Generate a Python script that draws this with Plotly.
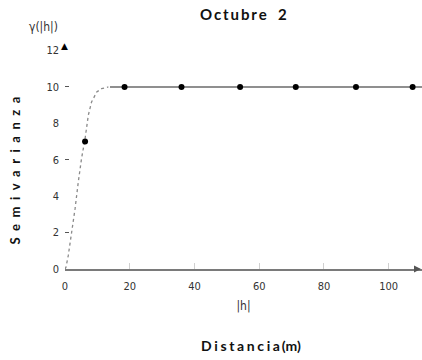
import plotly.graph_objects as go

# Empirical semivariogram (lag distance in m, semivariance)
lag = [6.2, 18.4, 36.0, 54.1, 71.3, 89.9, 107.4]
gamma = [7.0, 10.0, 10.0, 10.0, 10.0, 10.0, 10.0]

# Fitted model: rising branch (dotted) and sill (solid)
model_h = [0.0, 0.3, 1.0, 2.1, 3.1, 4.1, 5.1, 6.2, 7.2, 8.2, 9.8, 11.3, 13.4]
model_g = [0.0, 0.1, 0.73, 2.0, 3.3, 4.77, 6.06, 7.16, 8.44, 9.17, 9.72, 9.91, 10.0]
sill_h = [13.9, 110.3]
sill_g = [10.0, 10.0]

x_ticks = [0, 20, 40, 60, 80, 100]
y_ticks = [0, 2, 4, 6, 8, 10, 12]
y_marks = [2, 6, 10]

title_text = "\u2009".join("Octubre") + "\u2002 2"
ylab_text = "\u2002".join("Semivarianza")
xlab_text = "\u2009\u200a".join("Distancia") + "\u2009(m)"

narrow = "DejaVu Sans Condensed, Liberation Sans Narrow, Arial Narrow, sans-serif"
bold = "Lato, Open Sans, sans-serif"

fig = go.Figure()
fig.add_trace(go.Scatter(x=model_h, y=model_g, mode="lines",
                         line=dict(color="#8a8a8a", width=1.3, dash="dot"),
                         hoverinfo="skip", showlegend=False))
fig.add_trace(go.Scatter(x=sill_h, y=sill_g, mode="lines",
                         line=dict(color="#8f8f8f", width=2),
                         hoverinfo="skip", showlegend=False))
fig.add_trace(go.Scatter(x=lag, y=gamma, mode="markers",
                         marker=dict(color="black", size=6),
                         showlegend=False))

fig.update_layout(
    width=422, height=360,
    margin=dict(l=65, r=0, t=40, b=91),
    paper_bgcolor="white", plot_bgcolor="white",
    showlegend=False,
    xaxis=dict(range=[0, 110.3], tickvals=x_ticks, showgrid=False, zeroline=False,
               showline=True, linecolor="#7a7a7a", linewidth=2,
               ticks="inside", ticklen=6, tickcolor="#d0d0d0", tickwidth=1,
               ticklabelstandoff=6,
               tickfont=dict(family=narrow, size=11, color="#333"),
               title=dict(text="|h|", standoff=9,
                          font=dict(family=narrow, size=12, color="#333"))),
    yaxis=dict(range=[0, 12.58], tickvals=y_ticks, showgrid=False, zeroline=False,
               showline=False, ticks="", ticklabelstandoff=5,
               tickfont=dict(family=narrow, size=11, color="#333")),
    yaxis2=dict(range=[0, 12.58], overlaying="y", side="left", anchor="x",
                tickvals=y_marks, ticks="inside", ticklen=4, tickcolor="#555",
                showticklabels=False, showgrid=False, zeroline=False, showline=False),
)

fig.add_trace(go.Scatter(x=[None], y=[None], yaxis="y2", showlegend=False))

fig.add_annotation(text=title_text, xref="paper", yref="paper", x=0.5, y=1,
                   yshift=26, showarrow=False, xanchor="center", yanchor="middle",
                   font=dict(family=bold, size=15, color="#111", weight="bold"))
fig.add_annotation(text=ylab_text, xref="paper", yref="paper", x=-0.14, y=0.43,
                   textangle=-90, showarrow=False, xanchor="center", yanchor="middle",
                   font=dict(family=bold, size=13, color="#111", weight="bold"))
fig.add_annotation(text=xlab_text, xref="paper", yref="paper", x=0.52, y=0,
                   yshift=-76, showarrow=False, xanchor="center", yanchor="middle",
                   font=dict(family=bold, size=14, color="#111", weight="bold"))
fig.add_annotation(text="\u03b3(|h|)", xref="paper", yref="paper", x=-0.06, y=1,
                   yshift=13, showarrow=False, xanchor="center", yanchor="middle",
                   font=dict(family=narrow, size=12, color="#333"))
fig.add_annotation(text="\u25b2", xref="x", yref="y", x=0, y=12, yshift=5, xshift=-1,
                   showarrow=False, xanchor="center", yanchor="middle",
                   font=dict(family="DejaVu Sans", size=9, color="black"))
fig.add_annotation(text="", xref="paper", yref="y", x=1, y=0, ax=-8, ay=0,
                   showarrow=True, arrowhead=2, arrowsize=1, arrowwidth=1.4,
                   arrowcolor="#555")

fig.write_html("out.html")
